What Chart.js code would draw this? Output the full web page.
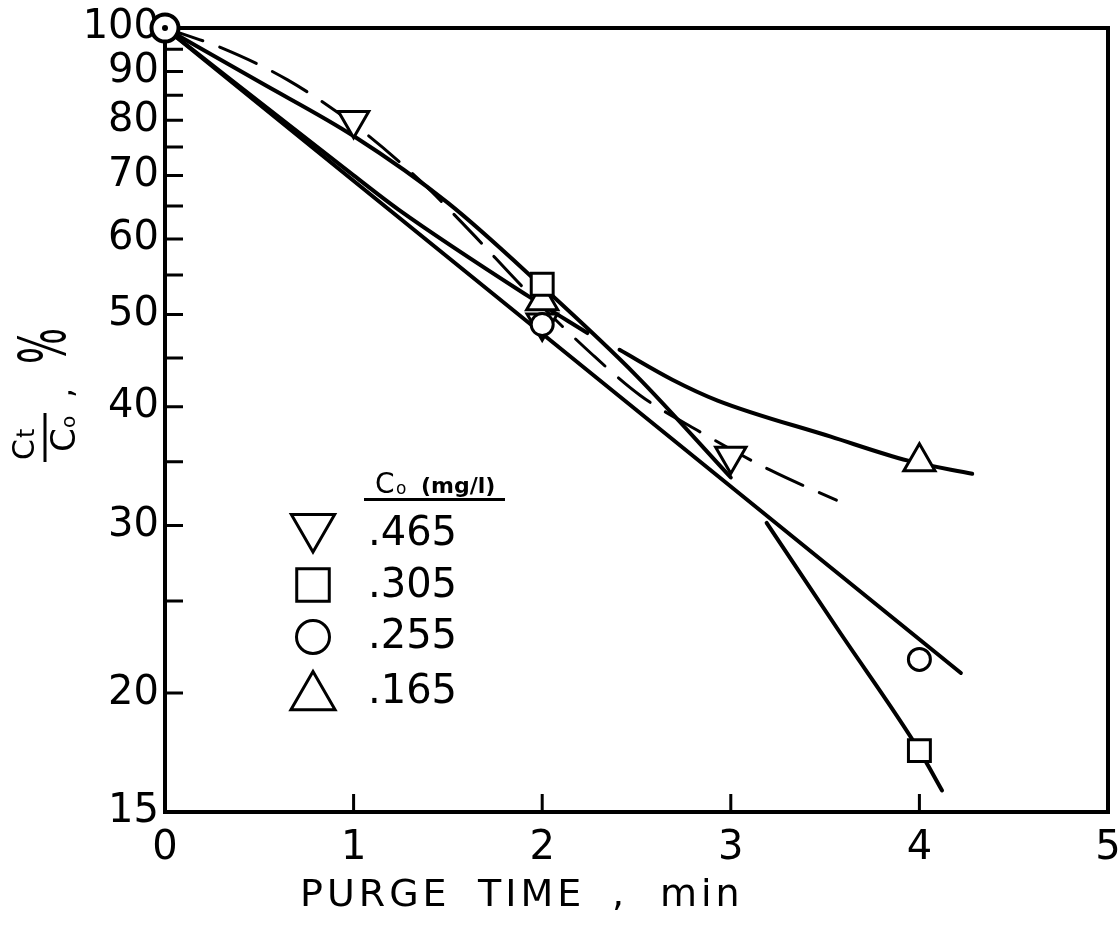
<!DOCTYPE html>
<html lang="en">
<head>
<meta charset="utf-8">
<title>Purge time vs Ct/Co</title>
<script src="https://cdn.jsdelivr.net/npm/chart.js@4.4.1/dist/chart.umd.min.js"></script>
<style>
  html, body { margin: 0; padding: 0; background: #ffffff; }
  canvas { display: block; }
</style>
</head>
<body>
<canvas id="purge" width="1119" height="937"></canvas>
<script>
// ---- axis ticks ----
const timeTicks = [0, 1, 2, 3, 4, 5];
const percentTicks = [15, 20, 25, 30, 35, 40, 45, 50, 55, 60, 65, 70, 75, 80, 85, 90, 95, 100];
const percentLabels = [15, 20, 30, 40, 50, 60, 70, 80, 90, 100];

// ---- initial concentrations, Co (mg/l) ----
const concentrations = ['.465', '.305', '.255', '.165'];

// common starting point: t = 0, Ct/Co = 100 %
const startTime = [0];
const startPercent = [100];

// ---- measured points ----
const time465 = [1, 2, 3];
const pct465 = [80, 49, 35.5];
const time305 = [2, 4];
const pct305 = [53.8, 17.4];
const time255 = [2, 4];
const pct255 = [48.8, 21.7];
const time165 = [2, 4];
const pct165 = [51.7, 35.0];

// ---- drawn-in curves (null = where a curve is broken at a crossing) ----
const curveTime465 = [0, 0.30, 0.65, 1.02, 1.36, 1.62, 1.91, 2.27, 2.52, 2.82, 3.21, 3.56];
const curvePct465  = [100, 95.3, 88.2, 78.7, 68.9, 61.1, 53.1, 45.3, 41.1, 37.8, 34.3, 31.9];
const curveTime305 = [0, 0.5, 1, 1.5, 2, 2.5, 3.0, 3.1, 3.19, 3.57, 4.0, 4.12];
const curvePct305  = [100, 87.8, 77.0, 65.5, 53.5, 43.1, 33.7, null, 30.2, 23.3, 17.4, 15.8];
const curveTime255 = [0, 4.22];
const curvePct255  = [100, 21.0];
const curveTime165 = [0, 1, 1.24, 1.93, 2.24, 2.33, 2.41, 2.69, 2.93, 3.53, 3.94, 4.28];
const curvePct165  = [100, 70.0, 64.4, 52.2, 47.8, null, 45.9, 42.7, 40.6, 37.2, 35.1, 34.0];

const xy = (ts, vs) => ts.map((t, i) => ({ x: t, y: vs[i] }));

const FONT = '"DejaVu Sans", "Liberation Sans", sans-serif';
const INK = '#000000';

function curve(ts, vs, width, dash) {
  return {
    data: xy(ts, vs), showLine: true, pointRadius: 0, borderColor: INK,
    borderWidth: width, borderDash: dash || [], cubicInterpolationMode: 'monotone',
    spanGaps: false, order: 10, clip: false, borderCapStyle: 'round'
  };
}
function markers(ts, vs, style, radius, rotation, order, width) {
  return {
    data: xy(ts, vs), showLine: false, pointStyle: style, pointRadius: radius,
    pointRotation: rotation || 0, pointBorderWidth: width || 3, pointBorderColor: INK,
    pointBackgroundColor: '#ffffff', order: order, clip: false
  };
}

// marker shapes for the key, in the order of `concentrations`
const keyShapes = [
  { pointStyle: 'triangle', rotation: 180, radius: 25 },
  { pointStyle: 'rect', rotation: 0, radius: 23 },
  { pointStyle: 'circle', rotation: 0, radius: 16.5 },
  { pointStyle: 'triangle', rotation: 0, radius: 25.5 }
];

function shape(ctx, opt, x, y) {
  if (Chart.helpers && Chart.helpers.drawPoint) {
    Chart.helpers.drawPoint(ctx, opt, x, y);
    return;
  }
  const r = opt.radius;
  ctx.beginPath();
  if (opt.pointStyle === 'circle') {
    ctx.arc(x, y, r, 0, Math.PI * 2);
  } else if (opt.pointStyle === 'rect') {
    const s = r * Math.SQRT1_2;
    ctx.rect(x - s, y - s, 2 * s, 2 * s);
  } else {
    let a = (opt.rotation || 0) * Math.PI / 180;
    for (let k = 0; k < 3; k++) {
      const px = x + Math.sin(a) * r, py = y - Math.cos(a) * r;
      k ? ctx.lineTo(px, py) : ctx.moveTo(px, py);
      a += 2 * Math.PI / 3;
    }
    ctx.closePath();
  }
  ctx.fill();
  ctx.stroke();
}

// plot frame and inward tick marks
const frameAndTicks = {
  id: 'frameAndTicks',
  beforeDatasetsDraw(chart) {
    const { ctx, chartArea: a, scales: { x, y } } = chart;
    ctx.save();
    ctx.strokeStyle = INK;
    ctx.lineWidth = 3;
    ctx.beginPath();
    y.ticks.forEach(t => {
      if (t.value > y.min && t.value < y.max) {
        const py = y.getPixelForValue(t.value);
        ctx.moveTo(a.left, py);
        ctx.lineTo(a.left + 18, py);
      }
    });
    x.ticks.forEach(t => {
      if (t.value > x.min && t.value < x.max) {
        const px = x.getPixelForValue(t.value);
        ctx.moveTo(px, a.bottom);
        ctx.lineTo(px, a.bottom - 18);
      }
    });
    ctx.stroke();
    ctx.lineWidth = 4;
    ctx.strokeRect(a.left, a.top, a.right - a.left, a.bottom - a.top);
    ctx.restore();
  }
};

// key with the Co values
const concentrationKey = {
  id: 'concentrationKey',
  afterDatasetsDraw(chart) {
    const ctx = chart.ctx;
    ctx.save();
    ctx.fillStyle = INK;
    ctx.textAlign = 'left';
    ctx.textBaseline = 'alphabetic';
    ctx.font = '28px ' + FONT;
    ctx.fillText('C', 375, 493);
    ctx.font = '17px ' + FONT;
    ctx.fillText('o', 396, 494);
    ctx.font = 'bold 22px ' + FONT;
    ctx.fillText('(mg/l)', 421, 493);
    ctx.fillRect(364, 498, 141, 3);

    const symY = [527, 585, 637, 697];
    const txtY = [535, 587, 638, 693];
    ctx.lineWidth = 3;
    ctx.strokeStyle = INK;
    concentrations.forEach((c, i) => {
      ctx.fillStyle = '#ffffff';
      shape(ctx, { ...keyShapes[i], borderWidth: 3 }, 313, symY[i]);
      ctx.fillStyle = INK;
      ctx.font = '40px ' + FONT;
      ctx.textBaseline = 'middle';
      ctx.fillText(c, 368, txtY[i]);
    });
    ctx.restore();
  }
};

// axis titles
const axisTitles = {
  id: 'axisTitles',
  afterDraw(chart) {
    const ctx = chart.ctx;
    ctx.save();
    ctx.fillStyle = INK;
    ctx.textAlign = 'left';
    ctx.textBaseline = 'alphabetic';
    ctx.font = '38px ' + FONT;
    if ('letterSpacing' in ctx) ctx.letterSpacing = '4px';
    ctx.fillText('PURGE', 300, 906);
    ctx.fillText('TIME', 478, 906);
    ctx.fillText(',', 612, 906);
    ctx.fillText('min', 660, 906);
    if ('letterSpacing' in ctx) ctx.letterSpacing = '0px';

    // vertical title: Ct / Co , %
    ctx.translate(45, 462);
    ctx.rotate(-Math.PI / 2);
    ctx.font = '30px ' + FONT;
    ctx.fillText('C', 2, -11);
    ctx.font = '24px ' + FONT;
    ctx.fillText('t', 24, -11);
    ctx.fillRect(0, -1.5, 49, 3);
    ctx.font = '34px ' + FONT;
    ctx.fillText('C', 10, 30);
    ctx.font = '20px ' + FONT;
    ctx.fillText('o', 34, 30);
    ctx.font = '32px ' + FONT;
    ctx.fillText(',', 64, 27);
    ctx.save();
    ctx.translate(116, 3);
    ctx.scale(0.95, 1.6);
    ctx.font = '40px ' + FONT;
    ctx.textAlign = 'center';
    ctx.textBaseline = 'middle';
    ctx.fillText('%', 0, 0);
    ctx.restore();
    ctx.restore();
  }
};

new Chart(document.getElementById('purge'), {
  type: 'scatter',
  data: {
    datasets: [
      curve(curveTime465, curvePct465, 3, [40, 18]),
      curve(curveTime305, curvePct305, 4),
      curve(curveTime255, curvePct255, 4),
      curve(curveTime165, curvePct165, 4),
      markers(time465, pct465, 'triangle', 17.5, 180, 5),
      markers(time255, pct255, 'circle', 11, 0, 4),
      markers(time165, pct165, 'triangle', 18, 0, 3),
      markers(time305, pct305, 'rect', 15.5, 0, 2),
      markers(startTime, startPercent, 'circle', 13.5, 0, 1, 4),
      {
        data: xy(startTime, startPercent), showLine: false, pointStyle: 'circle',
        pointRadius: 3, pointBorderWidth: 0, pointBackgroundColor: INK, order: 0, clip: false
      }
    ]
  },
  options: {
    responsive: false,
    animation: false,
    events: [],
    layout: { autoPadding: false, padding: { left: 0, right: 11, top: 28, bottom: 0 } },
    plugins: { legend: { display: false }, tooltip: { enabled: false } },
    scales: {
      x: {
        type: 'linear', min: 0, max: 5,
        afterBuildTicks: s => { s.ticks = timeTicks.map(v => ({ value: v })); },
        afterFit: s => { s.height = 125; s.paddingLeft = 0; s.paddingRight = 0; },
        grid: { display: false, drawTicks: false },
        border: { display: false },
        ticks: {
          autoSkip: false, maxRotation: 0, padding: 13, color: INK,
          font: { family: FONT, size: 40 }, callback: v => String(v)
        }
      },
      y: {
        type: 'logarithmic', min: 15, max: 100,
        afterBuildTicks: s => { s.ticks = percentTicks.map(v => ({ value: v })); },
        afterFit: s => { s.width = 165; s.paddingTop = 0; s.paddingBottom = 0; },
        grid: { display: false, drawTicks: false },
        border: { display: false },
        ticks: {
          autoSkip: false, padding: 6, color: INK,
          font: { family: FONT, size: 40 },
          callback: v => (percentLabels.includes(v) ? String(v) : '')
        }
      }
    }
  },
  plugins: [frameAndTicks, concentrationKey, axisTitles]
});
</script>
</body>
</html>
